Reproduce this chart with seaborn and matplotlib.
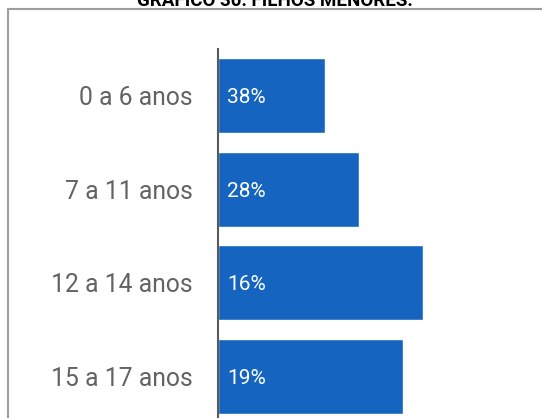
import matplotlib
matplotlib.use("Agg")
import matplotlib.pyplot as plt
import seaborn as sns
from matplotlib.lines import Line2D

# data
categories = ["0 a 6 anos", "7 a 11 anos", "12 a 14 anos", "15 a 17 anos"]
bar_values = [33.0, 43.5, 63.3, 57.1]   # bar lengths as drawn
bar_labels = ["38%", "28%", "16%", "19%"]  # labels printed on the bars
title = "GRÁFICO 30: FILHOS MENORES:"

sns.set_theme(style="white")
plt.rcParams["font.family"] = ["Roboto", "DejaVu Sans"]

W, H = 542, 418
fig = plt.figure(figsize=(W / 100, H / 100), dpi=100)
ax = fig.add_axes([218 / W, -5 / H, (W - 218) / W, 374 / H])

sns.barplot(x=bar_values, y=categories, orient="h", color="#1565C0",
            width=0.8, saturation=1, ax=ax)
ax.set_xlim(0, 100)
ax.set_ylim(3.5, -0.5)

for i, lab in enumerate(bar_labels):
    ax.text(2.9, i, lab, color="white", fontsize=15, va="center_baseline",
            ha="left")

ax.set_xticks([])
ax.set_xlabel("")
ax.set_ylabel("")
ax.tick_params(axis="y", length=0, pad=18, labelsize=17.8, labelcolor="#636363")
for s in ["top", "right", "bottom"]:
    ax.spines[s].set_visible(False)
ax.spines["left"].set_color("#5a5a5a")
ax.spines["left"].set_linewidth(1.5)

# outer frame (top + left only visible)
fig.add_artist(Line2D([7.5 / W, 1], [1 - 8.5 / H, 1 - 8.5 / H],
                      color="#9e9e9e", lw=1.5, transform=fig.transFigure))
fig.add_artist(Line2D([7.5 / W, 7.5 / W], [0, 1 - 8.5 / H],
                      color="#9e9e9e", lw=1.5, transform=fig.transFigure))

# title, cut off at the top edge
fig.text(275 / W, 1 - 6.5 / H, title, ha="center", va="baseline",
         fontsize=13.5, fontweight="bold", color="black",
         family=["Liberation Sans Narrow", "Roboto", "DejaVu Sans"])

fig.savefig("out.png", dpi=100)
